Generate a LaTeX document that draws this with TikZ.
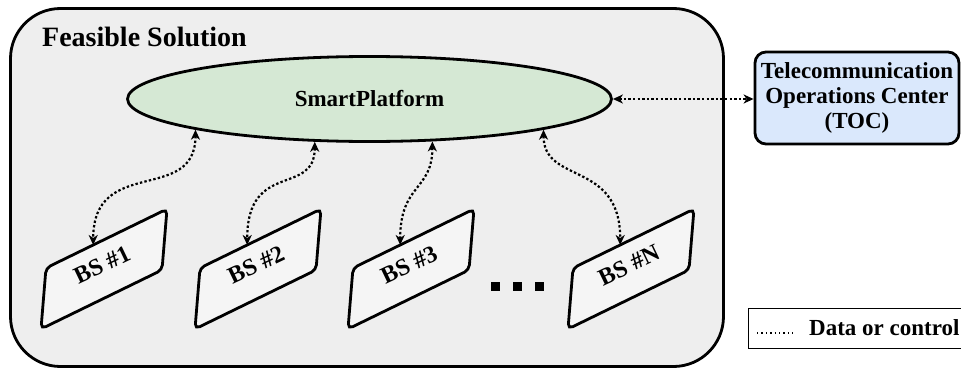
\documentclass[tikz,border=0pt]{standalone}
\usepackage{fontspec}
\setmainfont{Liberation Serif}
\usetikzlibrary{arrows.meta,shapes.geometric}

\definecolor{panelgray}{HTML}{EEEEEE}
\definecolor{platgreen}{HTML}{D5E8D4}
\definecolor{tocblue}{HTML}{DAE8FC}
\definecolor{bsgray}{HTML}{F5F5F5}

\tikzset{
  panel/.style={draw=black, fill=panelgray, line width=2.8pt, rounded corners=50pt},
  platform/.style={ellipse, draw=black, fill=platgreen, line width=2.8pt,
    minimum width=484pt, minimum height=85pt, inner sep=0pt,
    font=\fontsize{23}{25}\selectfont\bfseries},
  tocbox/.style={draw=black, fill=tocblue, line width=2.8pt, rounded corners=11pt,
    minimum width=204pt, minimum height=92pt, align=center, inner sep=0pt,
    font=\fontsize{23}{25}\selectfont\bfseries},
  bsshape/.style={draw=black, fill=bsgray, line width=2.8pt, rounded corners=5pt},
  bslabel/.style={font=\fontsize{24}{26}\selectfont\bfseries, inner sep=0pt, rotate=25.6},
  link/.style={line width=2.2pt, dash pattern=on 2.4pt off 2.2pt,
    {Stealth[length=10pt,width=9pt,inset=3pt]}-{Stealth[length=10pt,width=9pt,inset=3pt]}},
  legendline/.style={line width=1.1pt, dash pattern=on 1.4pt off 3pt},
  titletext/.style={font=\fontsize{28}{30}\selectfont\bfseries, inner sep=0pt},
  legendtext/.style={font=\fontsize{23}{25}\selectfont\bfseries, inner sep=0pt},
}

% one base station: name, x of the upper-left corner, label
\newcommand\basestation[3]{%
  \draw[bsshape] (#2,268) -- ++(121,-59) -- ++(-5,61) -- ++(-121,59) -- cycle;
  \coordinate (#1-in) at ({#2+47.2},245);
  \node[bslabel] (#1) at ({#2+56},265) {#3};
}

\begin{document}
\begin{tikzpicture}[x=1pt,y=-1pt]
\useasboundingbox (0,0) rectangle (961,372);

% outer panel
\draw[panel] (10.5,8.5) rectangle (723.5,366.5);
\node[titletext, anchor=base west] (title) at (42,46) {Feasible Solution};

% platform
\node[platform] (sp) at (369.5,99) {SmartPlatform};

% operations center
\node[tocbox] (toc) at (857,98) {Telecommunication\\Operations Center\\(TOC)};

% base stations
\basestation{bs1}{46}{BS \#1}
\basestation{bs2}{200}{BS \#2}
\basestation{bs3}{353}{BS \#3}
\basestation{bsn}{573}{BS \#N}

% ellipsis between the stations
\fill (491,282) rectangle (500,291);
\fill (512.5,282) rectangle (521.5,291);
\fill (534.5,282) rectangle (543.5,291);

% data / control links
\draw[link] (sp.190.4) .. controls +(0,75) and +(0,-90) .. (bs1-in);
\draw[link] (sp.218.7) .. controls +(0,55) and +(0,-85) .. (bs2-in);
\draw[link] (sp.326.2) .. controls +(0,50) and +(0,-62) .. (bs3-in);
\draw[link] (sp.350) .. controls +(0,55) and +(0,-85) .. (bsn-in);
\draw[link] (sp.east) -- (sp.east -| toc.west);

% legend
\node[draw=black, line width=0.8pt, anchor=north west, minimum width=225pt,
      minimum height=40pt, inner sep=0pt] (legend) at (748,308) {};
\coordinate (lg-a) at (757,333);
\coordinate (lg-b) at (793,333);
\draw[legendline] (lg-a) -- (lg-b);
\node[legendtext, anchor=base west] (lgtext) at (809,335) {Data or control};
\end{tikzpicture}
\end{document}
